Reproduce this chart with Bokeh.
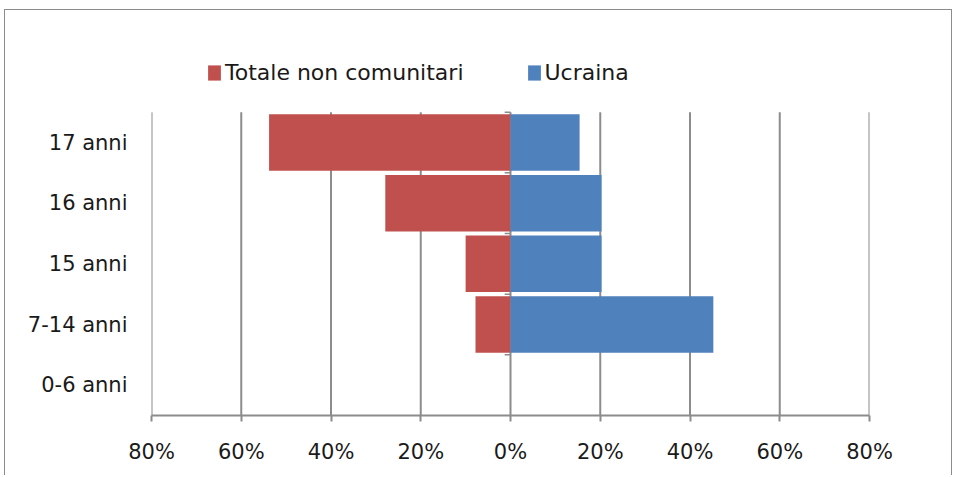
from bokeh.plotting import figure
from bokeh.models import (ColumnDataSource, FixedTicker, CustomJSTickFormatter,
                          Legend, LegendItem, Range1d)
from bokeh.embed import file_html
from bokeh.resources import INLINE

# ---- data ----
categories = ["0-6 anni", "7-14 anni", "15 anni", "16 anni", "17 anni"]
totale_non_comunitari = [0.0, 7.8, 10.0, 27.9, 53.8]   # shown on the left (negative side)
ucraina = [0.0, 45.2, 20.3, 20.3, 15.4]
x_ticks = [-80, -60, -40, -20, 0, 20, 40, 60, 80]

RED = "#C0504D"
BLUE = "#4F81BD"
GRID = "#8C8C8C"
FONT = "DejaVu Sans"

pos = list(range(len(categories)))
src = ColumnDataSource(dict(
    y=pos,
    left=[-v for v in totale_non_comunitari],
    right=ucraina,
))

p = figure(width=948, height=466, x_range=(-80, 80),
           y_range=Range1d(-0.5, len(categories) + 0.5),
           output_backend="svg", toolbar_location=None,
           min_border_left=146, min_border_top=41,
           min_border_right=84, min_border_bottom=61,
           styles={"border": "1px solid #8C8C8C", "border-bottom": "none",
                   "margin-left": "4px", "margin-top": "9px"})
p.outline_line_color = None

# vertical gridlines (only over the category area)
p.segment(x0=x_ticks, x1=x_ticks, y0=[-0.5] * len(x_ticks),
          y1=[len(categories) - 0.5] * len(x_ticks),
          line_color=GRID, line_width=2)

r_red = p.hbar(y="y", left="left", right=0, height=0.93, source=src,
               fill_color=RED, line_color=None)
r_blue = p.hbar(y="y", left=0, right="right", height=0.93, source=src,
                fill_color=BLUE, line_color=None)

# small ticks on the vertical (0) axis at category boundaries
bnd_y = [i + 0.5 for i in pos]
p.segment(x0=[-1.3] * len(bnd_y), x1=[0] * len(bnd_y), y0=bnd_y, y1=bnd_y,
          line_color=GRID, line_width=1.5)

# x axis
p.xaxis.ticker = FixedTicker(ticks=x_ticks)
p.xaxis.formatter = CustomJSTickFormatter(code="return Math.abs(tick) + '%';")
p.xaxis.axis_line_color = GRID
p.xaxis.axis_line_width = 2
p.xaxis.major_tick_line_color = GRID
p.xaxis.major_tick_line_width = 2
p.xaxis.major_tick_in = 0
p.xaxis.major_tick_out = 6
p.xaxis.minor_tick_line_color = None
p.xaxis.major_label_standoff = 18
p.xaxis.major_label_text_font = FONT
p.xaxis.major_label_text_font_size = "21px"
p.xaxis.major_label_text_color = "#1a1a1a"

# y axis
p.yaxis.ticker = FixedTicker(ticks=pos)
p.yaxis.formatter = CustomJSTickFormatter(args=dict(labels=categories),
                                          code="return labels[Math.round(tick)];")
p.yaxis.axis_line_color = None
p.yaxis.major_tick_line_color = None
p.yaxis.minor_tick_line_color = None
p.yaxis.major_label_standoff = 18
p.yaxis.major_label_text_font = FONT
p.yaxis.major_label_text_font_size = "21px"
p.yaxis.major_label_text_color = "#1a1a1a"

p.xgrid.grid_line_color = None
p.ygrid.grid_line_color = None

legend = Legend(items=[LegendItem(label="Totale non comunitari", renderers=[r_red]),
                       LegendItem(label="Ucraina", renderers=[r_blue])],
                orientation="horizontal", location=(55, 330),
                glyph_width=16, glyph_height=19, label_standoff=3,
                spacing=62, padding=0, margin=0,
                border_line_color=None, background_fill_alpha=0,
                label_text_font=FONT, label_text_font_size="22px",
                label_text_color="#1a1a1a")
p.add_layout(legend)

open("out.html", "w").write(file_html(p, INLINE))
